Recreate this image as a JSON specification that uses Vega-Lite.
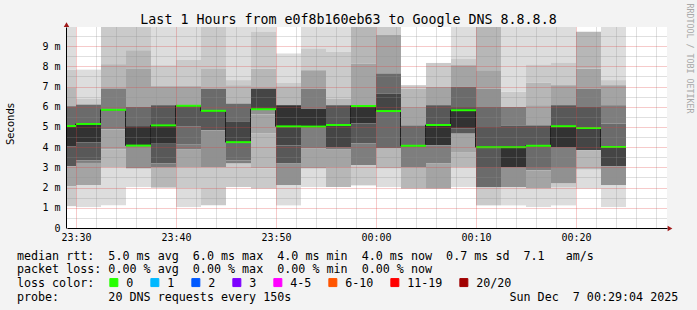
{
  "$schema": "https://vega.github.io/schema/vega-lite/v6.json",
  "width": 600,
  "height": 201,
  "autosize": {"type": "none"},
  "padding": {"left": 67, "top": 27, "right": 30, "bottom": 82},
  "background": "#f3f3f3",
  "config": {"view": {"fill": "#ffffff", "stroke": null}, "font": "DejaVu Sans Mono"},
  "title": {
    "text": "Last 1 Hours from e0f8b160eb63 to Google DNS 8.8.8.8",
    "font": "DejaVu Sans Mono", "fontSize": 13.3, "fontWeight": "normal", "color": "#000000",
    "anchor": "middle", "frame": "group", "dx": -18.5, "baseline": "alphabetic", "offset": 0, "dy": 34
  },
  "datasets": {
    "cols": [
      {"c": 0, "t0": 1765063650000, "t1": 1765063800000, "med": 5.05, "loss": "0"},
      {"c": 1, "t0": 1765063800000, "t1": 1765063950000, "med": 5.15, "loss": "0"},
      {"c": 2, "t0": 1765063950000, "t1": 1765064100000, "med": 5.85, "loss": "0"},
      {"c": 3, "t0": 1765064100000, "t1": 1765064250000, "med": 4.08, "loss": "0"},
      {"c": 4, "t0": 1765064250000, "t1": 1765064400000, "med": 5.08, "loss": "0"},
      {"c": 5, "t0": 1765064400000, "t1": 1765064550000, "med": 6.05, "loss": "0"},
      {"c": 6, "t0": 1765064550000, "t1": 1765064700000, "med": 5.8, "loss": "0"},
      {"c": 7, "t0": 1765064700000, "t1": 1765064850000, "med": 4.25, "loss": "0"},
      {"c": 8, "t0": 1765064850000, "t1": 1765065000000, "med": 5.88, "loss": "0"},
      {"c": 9, "t0": 1765065000000, "t1": 1765065150000, "med": 5.03, "loss": "0"},
      {"c": 10, "t0": 1765065150000, "t1": 1765065300000, "med": 5.02, "loss": "0"},
      {"c": 11, "t0": 1765065300000, "t1": 1765065450000, "med": 5.1, "loss": "0"},
      {"c": 12, "t0": 1765065450000, "t1": 1765065600000, "med": 6.04, "loss": "0"},
      {"c": 13, "t0": 1765065600000, "t1": 1765065750000, "med": 5.79, "loss": "0"},
      {"c": 14, "t0": 1765065750000, "t1": 1765065900000, "med": 4.07, "loss": "0"},
      {"c": 15, "t0": 1765065900000, "t1": 1765066050000, "med": 5.1, "loss": "0"},
      {"c": 16, "t0": 1765066050000, "t1": 1765066200000, "med": 5.83, "loss": "0"},
      {"c": 17, "t0": 1765066200000, "t1": 1765066350000, "med": 4.0, "loss": "0"},
      {"c": 18, "t0": 1765066350000, "t1": 1765066500000, "med": 4.0, "loss": "0"},
      {"c": 19, "t0": 1765066500000, "t1": 1765066650000, "med": 4.07, "loss": "0"},
      {"c": 20, "t0": 1765066650000, "t1": 1765066800000, "med": 5.04, "loss": "0"},
      {"c": 21, "t0": 1765066800000, "t1": 1765066950000, "med": 4.95, "loss": "0"},
      {"c": 22, "t0": 1765066950000, "t1": 1765067100000, "med": 4.01, "loss": "0"}
    ],
    "smoke": [
      {"t0":1765063650000,"t1":1765063800000,"hi":10.5,"lo":7.84,"g":1},{"t0":1765063650000,"t1":1765063800000,"hi":7.84,"lo":6.93,"g":2},{"t0":1765063650000,"t1":1765063800000,"hi":6.93,"lo":6.03,"g":3},{"t0":1765063650000,"t1":1765063800000,"hi":6.03,"lo":5.05,"g":7},{"t0":1765063650000,"t1":1765063800000,"hi":5.05,"lo":4.05,"g":10},{"t0":1765063650000,"t1":1765063800000,"hi":4.05,"lo":3.06,"g":8},{"t0":1765063650000,"t1":1765063800000,"hi":3.06,"lo":2.07,"g":4},{"t0":1765063650000,"t1":1765063800000,"hi":2.07,"lo":1.08,"g":2},
      {"t0":1765063800000,"t1":1765063950000,"hi":7.84,"lo":6.41,"g":1},{"t0":1765063800000,"t1":1765063950000,"hi":6.41,"lo":6.11,"g":2},{"t0":1765063800000,"t1":1765063950000,"hi":6.11,"lo":5.15,"g":7},{"t0":1765063800000,"t1":1765063950000,"hi":5.15,"lo":4.23,"g":10},{"t0":1765063800000,"t1":1765063950000,"hi":4.23,"lo":3.35,"g":8},{"t0":1765063800000,"t1":1765063950000,"hi":3.35,"lo":3.22,"g":6},{"t0":1765063800000,"t1":1765063950000,"hi":3.22,"lo":2.11,"g":4},{"t0":1765063800000,"t1":1765063950000,"hi":2.11,"lo":1.04,"g":1},
      {"t0":1765063950000,"t1":1765064100000,"hi":10.5,"lo":8.11,"g":2},{"t0":1765063950000,"t1":1765064100000,"hi":8.11,"lo":6.9,"g":3},{"t0":1765063950000,"t1":1765064100000,"hi":6.9,"lo":4.87,"g":6},{"t0":1765063950000,"t1":1765064100000,"hi":4.87,"lo":3.88,"g":4},{"t0":1765063950000,"t1":1765064100000,"hi":3.88,"lo":2.99,"g":3},{"t0":1765063950000,"t1":1765064100000,"hi":2.99,"lo":1.12,"g":1},
      {"t0":1765064100000,"t1":1765064250000,"hi":10.5,"lo":8.8,"g":2},{"t0":1765064100000,"t1":1765064250000,"hi":8.8,"lo":7.89,"g":3},{"t0":1765064100000,"t1":1765064250000,"hi":7.89,"lo":5.99,"g":4},{"t0":1765064100000,"t1":1765064250000,"hi":5.99,"lo":5.04,"g":7},{"t0":1765064100000,"t1":1765064250000,"hi":5.04,"lo":4.08,"g":10},{"t0":1765064100000,"t1":1765064250000,"hi":4.08,"lo":2.94,"g":5},{"t0":1765064100000,"t1":1765064250000,"hi":2.94,"lo":2.03,"g":1},
      {"t0":1765064250000,"t1":1765064400000,"hi":10.5,"lo":8.06,"g":1},{"t0":1765064250000,"t1":1765064400000,"hi":8.06,"lo":7.02,"g":2},{"t0":1765064250000,"t1":1765064400000,"hi":7.02,"lo":6.08,"g":4},{"t0":1765064250000,"t1":1765064400000,"hi":6.08,"lo":5.08,"g":8},{"t0":1765064250000,"t1":1765064400000,"hi":5.08,"lo":4.17,"g":10},{"t0":1765064250000,"t1":1765064400000,"hi":4.17,"lo":3.19,"g":8},{"t0":1765064250000,"t1":1765064400000,"hi":3.19,"lo":2.99,"g":6},{"t0":1765064250000,"t1":1765064400000,"hi":2.99,"lo":2.0,"g":3},
      {"t0":1765064400000,"t1":1765064550000,"hi":10.5,"lo":8.34,"g":1},{"t0":1765064400000,"t1":1765064550000,"hi":8.34,"lo":7.02,"g":2},{"t0":1765064400000,"t1":1765064550000,"hi":7.02,"lo":6.05,"g":4},{"t0":1765064400000,"t1":1765064550000,"hi":6.05,"lo":5.04,"g":8},{"t0":1765064400000,"t1":1765064550000,"hi":5.04,"lo":4.15,"g":7},{"t0":1765064400000,"t1":1765064550000,"hi":4.15,"lo":3.88,"g":6},{"t0":1765064400000,"t1":1765064550000,"hi":3.88,"lo":2.99,"g":4},{"t0":1765064400000,"t1":1765064550000,"hi":2.99,"lo":1.95,"g":2},{"t0":1765064400000,"t1":1765064550000,"hi":1.95,"lo":1.04,"g":1},
      {"t0":1765064550000,"t1":1765064700000,"hi":10.5,"lo":7.9,"g":2},{"t0":1765064550000,"t1":1765064700000,"hi":7.9,"lo":6.9,"g":3},{"t0":1765064550000,"t1":1765064700000,"hi":6.9,"lo":5.8,"g":7},{"t0":1765064550000,"t1":1765064700000,"hi":5.8,"lo":4.84,"g":8},{"t0":1765064550000,"t1":1765064700000,"hi":4.84,"lo":2.99,"g":5},{"t0":1765064550000,"t1":1765064700000,"hi":2.99,"lo":1.12,"g":2},
      {"t0":1765064700000,"t1":1765064850000,"hi":10.5,"lo":7.32,"g":1},{"t0":1765064700000,"t1":1765064850000,"hi":7.32,"lo":7.07,"g":2},{"t0":1765064700000,"t1":1765064850000,"hi":7.07,"lo":6.16,"g":3},{"t0":1765064700000,"t1":1765064850000,"hi":6.16,"lo":5.25,"g":7},{"t0":1765064700000,"t1":1765064850000,"hi":5.25,"lo":4.25,"g":9},{"t0":1765064700000,"t1":1765064850000,"hi":4.25,"lo":3.35,"g":7},{"t0":1765064700000,"t1":1765064850000,"hi":3.35,"lo":3.19,"g":6},{"t0":1765064700000,"t1":1765064850000,"hi":3.19,"lo":2.03,"g":2},
      {"t0":1765064850000,"t1":1765065000000,"hi":10.5,"lo":9.71,"g":1},{"t0":1765064850000,"t1":1765065000000,"hi":9.71,"lo":7.89,"g":2},{"t0":1765064850000,"t1":1765065000000,"hi":7.89,"lo":6.9,"g":3},{"t0":1765064850000,"t1":1765065000000,"hi":6.9,"lo":5.88,"g":9},{"t0":1765064850000,"t1":1765065000000,"hi":5.88,"lo":5.63,"g":5},{"t0":1765064850000,"t1":1765065000000,"hi":5.63,"lo":4.67,"g":4},{"t0":1765064850000,"t1":1765065000000,"hi":4.67,"lo":2.94,"g":3},{"t0":1765064850000,"t1":1765065000000,"hi":2.94,"lo":1.95,"g":2},
      {"t0":1765065000000,"t1":1765065150000,"hi":8.64,"lo":7.18,"g":1},{"t0":1765065000000,"t1":1765065150000,"hi":7.18,"lo":7.02,"g":2},{"t0":1765065000000,"t1":1765065150000,"hi":7.02,"lo":6.08,"g":3},{"t0":1765065000000,"t1":1765065150000,"hi":6.08,"lo":5.03,"g":10},{"t0":1765065000000,"t1":1765065150000,"hi":5.03,"lo":4.09,"g":9},{"t0":1765065000000,"t1":1765065150000,"hi":4.09,"lo":3.19,"g":8},{"t0":1765065000000,"t1":1765065150000,"hi":3.19,"lo":2.11,"g":5},{"t0":1765065000000,"t1":1765065150000,"hi":2.11,"lo":1.12,"g":1},
      {"t0":1765065150000,"t1":1765065300000,"hi":10.5,"lo":8.89,"g":1},{"t0":1765065150000,"t1":1765065300000,"hi":8.89,"lo":7.81,"g":2},{"t0":1765065150000,"t1":1765065300000,"hi":7.81,"lo":6.9,"g":4},{"t0":1765065150000,"t1":1765065300000,"hi":6.9,"lo":5.91,"g":6},{"t0":1765065150000,"t1":1765065300000,"hi":5.91,"lo":5.02,"g":10},{"t0":1765065150000,"t1":1765065300000,"hi":5.02,"lo":3.93,"g":6},{"t0":1765065150000,"t1":1765065300000,"hi":3.93,"lo":2.94,"g":4},{"t0":1765065150000,"t1":1765065300000,"hi":2.94,"lo":2.03,"g":1},
      {"t0":1765065300000,"t1":1765065450000,"hi":10.5,"lo":8.72,"g":1},{"t0":1765065300000,"t1":1765065450000,"hi":8.72,"lo":6.41,"g":2},{"t0":1765065300000,"t1":1765065450000,"hi":6.41,"lo":6.08,"g":3},{"t0":1765065300000,"t1":1765065450000,"hi":6.08,"lo":5.1,"g":8},{"t0":1765065300000,"t1":1765065450000,"hi":5.1,"lo":4.01,"g":9},{"t0":1765065300000,"t1":1765065450000,"hi":4.01,"lo":3.88,"g":6},{"t0":1765065300000,"t1":1765065450000,"hi":3.88,"lo":3.02,"g":4},{"t0":1765065300000,"t1":1765065450000,"hi":3.02,"lo":2.03,"g":3},
      {"t0":1765065450000,"t1":1765065600000,"hi":10.5,"lo":8.14,"g":3},{"t0":1765065450000,"t1":1765065600000,"hi":8.14,"lo":6.04,"g":4},{"t0":1765065450000,"t1":1765065600000,"hi":6.04,"lo":5.17,"g":10},{"t0":1765065450000,"t1":1765065600000,"hi":5.17,"lo":4.18,"g":8},{"t0":1765065450000,"t1":1765065600000,"hi":4.18,"lo":3.1,"g":6},{"t0":1765065450000,"t1":1765065600000,"hi":3.1,"lo":2.11,"g":2},
      {"t0":1765065600000,"t1":1765065750000,"hi":10.5,"lo":9.55,"g":2},{"t0":1765065600000,"t1":1765065750000,"hi":9.55,"lo":7.65,"g":4},{"t0":1765065600000,"t1":1765065750000,"hi":7.65,"lo":6.66,"g":7},{"t0":1765065600000,"t1":1765065750000,"hi":6.66,"lo":5.79,"g":9},{"t0":1765065600000,"t1":1765065750000,"hi":5.79,"lo":3.93,"g":7},{"t0":1765065600000,"t1":1765065750000,"hi":3.93,"lo":2.94,"g":3},{"t0":1765065600000,"t1":1765065750000,"hi":2.94,"lo":2.03,"g":1},
      {"t0":1765065750000,"t1":1765065900000,"hi":7.07,"lo":6.9,"g":2},{"t0":1765065750000,"t1":1765065900000,"hi":6.9,"lo":5.99,"g":3},{"t0":1765065750000,"t1":1765065900000,"hi":5.99,"lo":5.08,"g":4},{"t0":1765065750000,"t1":1765065900000,"hi":5.08,"lo":4.07,"g":7},{"t0":1765065750000,"t1":1765065900000,"hi":4.07,"lo":2.99,"g":6},{"t0":1765065750000,"t1":1765065900000,"hi":2.99,"lo":1.95,"g":3},
      {"t0":1765065900000,"t1":1765066050000,"hi":8.17,"lo":6.99,"g":2},{"t0":1765065900000,"t1":1765066050000,"hi":6.99,"lo":6.08,"g":4},{"t0":1765065900000,"t1":1765066050000,"hi":6.08,"lo":5.1,"g":8},{"t0":1765065900000,"t1":1765066050000,"hi":5.1,"lo":4.09,"g":10},{"t0":1765065900000,"t1":1765066050000,"hi":4.09,"lo":3.19,"g":6},{"t0":1765065900000,"t1":1765066050000,"hi":3.19,"lo":1.95,"g":4},
      {"t0":1765066050000,"t1":1765066200000,"hi":10.5,"lo":8.39,"g":1},{"t0":1765066050000,"t1":1765066200000,"hi":8.39,"lo":8.06,"g":2},{"t0":1765066050000,"t1":1765066200000,"hi":8.06,"lo":6.99,"g":4},{"t0":1765066050000,"t1":1765066200000,"hi":6.99,"lo":5.99,"g":7},{"t0":1765066050000,"t1":1765066200000,"hi":5.99,"lo":5.83,"g":8},{"t0":1765066050000,"t1":1765066200000,"hi":5.83,"lo":4.92,"g":10},{"t0":1765066050000,"t1":1765066200000,"hi":4.92,"lo":4.67,"g":8},{"t0":1765066050000,"t1":1765066200000,"hi":4.67,"lo":3.76,"g":4},{"t0":1765066050000,"t1":1765066200000,"hi":3.76,"lo":2.99,"g":3},{"t0":1765066050000,"t1":1765066200000,"hi":2.99,"lo":2.03,"g":1},
      {"t0":1765066200000,"t1":1765066350000,"hi":10.5,"lo":7.81,"g":3},{"t0":1765066200000,"t1":1765066350000,"hi":7.81,"lo":6.9,"g":4},{"t0":1765066200000,"t1":1765066350000,"hi":6.9,"lo":5.99,"g":5},{"t0":1765066200000,"t1":1765066350000,"hi":5.99,"lo":5.0,"g":7},{"t0":1765066200000,"t1":1765066350000,"hi":5.0,"lo":3.02,"g":8},{"t0":1765066200000,"t1":1765066350000,"hi":3.02,"lo":2.03,"g":7},{"t0":1765066200000,"t1":1765066350000,"hi":2.03,"lo":1.12,"g":2},
      {"t0":1765066350000,"t1":1765066500000,"hi":10.5,"lo":6.74,"g":1},{"t0":1765066350000,"t1":1765066500000,"hi":6.74,"lo":5.99,"g":2},{"t0":1765066350000,"t1":1765066500000,"hi":5.99,"lo":5.08,"g":6},{"t0":1765066350000,"t1":1765066500000,"hi":5.08,"lo":4.0,"g":8},{"t0":1765066350000,"t1":1765066500000,"hi":4.0,"lo":3.02,"g":10},{"t0":1765066350000,"t1":1765066500000,"hi":3.02,"lo":2.03,"g":5},{"t0":1765066350000,"t1":1765066500000,"hi":2.03,"lo":1.12,"g":1},
      {"t0":1765066500000,"t1":1765066650000,"hi":10.5,"lo":8.1,"g":1},{"t0":1765066500000,"t1":1765066650000,"hi":8.1,"lo":7.2,"g":2},{"t0":1765066500000,"t1":1765066650000,"hi":7.2,"lo":6.08,"g":3},{"t0":1765066500000,"t1":1765066650000,"hi":6.08,"lo":5.08,"g":4},{"t0":1765066500000,"t1":1765066650000,"hi":5.08,"lo":4.07,"g":8},{"t0":1765066500000,"t1":1765066650000,"hi":4.07,"lo":3.02,"g":7},{"t0":1765066500000,"t1":1765066650000,"hi":3.02,"lo":2.85,"g":6},{"t0":1765066500000,"t1":1765066650000,"hi":2.85,"lo":1.95,"g":4},{"t0":1765066500000,"t1":1765066650000,"hi":1.95,"lo":1.04,"g":1},
      {"t0":1765066650000,"t1":1765066800000,"hi":10.5,"lo":8.17,"g":1},{"t0":1765066650000,"t1":1765066800000,"hi":8.17,"lo":7.07,"g":2},{"t0":1765066650000,"t1":1765066800000,"hi":7.07,"lo":6.08,"g":4},{"t0":1765066650000,"t1":1765066800000,"hi":6.08,"lo":5.04,"g":8},{"t0":1765066650000,"t1":1765066800000,"hi":5.04,"lo":4.01,"g":10},{"t0":1765066650000,"t1":1765066800000,"hi":4.01,"lo":3.02,"g":6},{"t0":1765066650000,"t1":1765066800000,"hi":3.02,"lo":2.2,"g":5},{"t0":1765066650000,"t1":1765066800000,"hi":2.2,"lo":2.03,"g":2},{"t0":1765066650000,"t1":1765066800000,"hi":2.03,"lo":1.12,"g":1},
      {"t0":1765066800000,"t1":1765066950000,"hi":9.71,"lo":7.89,"g":3},{"t0":1765066800000,"t1":1765066950000,"hi":7.89,"lo":6.9,"g":4},{"t0":1765066800000,"t1":1765066950000,"hi":6.9,"lo":5.99,"g":6},{"t0":1765066800000,"t1":1765066950000,"hi":5.99,"lo":4.95,"g":8},{"t0":1765066800000,"t1":1765066950000,"hi":4.95,"lo":3.85,"g":9},{"t0":1765066800000,"t1":1765066950000,"hi":3.85,"lo":2.89,"g":3},{"t0":1765066800000,"t1":1765066950000,"hi":2.89,"lo":1.95,"g":1},
      {"t0":1765066950000,"t1":1765067100000,"hi":10.5,"lo":7.32,"g":1},{"t0":1765066950000,"t1":1765067100000,"hi":7.32,"lo":7.07,"g":2},{"t0":1765066950000,"t1":1765067100000,"hi":7.07,"lo":6.08,"g":4},{"t0":1765066950000,"t1":1765067100000,"hi":6.08,"lo":5.17,"g":6},{"t0":1765066950000,"t1":1765067100000,"hi":5.17,"lo":4.01,"g":7},{"t0":1765066950000,"t1":1765067100000,"hi":4.01,"lo":3.05,"g":9},{"t0":1765066950000,"t1":1765067100000,"hi":3.05,"lo":2.11,"g":5},{"t0":1765066950000,"t1":1765067100000,"hi":2.11,"lo":1.04,"g":1}
    ],
    "marks": [{"axis": "x"}]
  },
  "layer": [
    {
      "data": {"name": "smoke"},
      "mark": {"type": "rect", "clip": true},
      "encoding": {
        "x": {
          "field": "t0", "type": "temporal",
          "scale": {"type": "utc", "domain": [1765063746000, 1765067346000], "nice": false},
          "axis": {
            "values": [1765063800000, 1765063920000, 1765064040000, 1765064160000, 1765064280000, 1765064400000, 1765064520000, 1765064640000, 1765064760000, 1765064880000, 1765065000000, 1765065120000, 1765065240000, 1765065360000, 1765065480000, 1765065600000, 1765065720000, 1765065840000, 1765065960000, 1765066080000, 1765066200000, 1765066320000, 1765066440000, 1765066560000, 1765066680000, 1765066800000, 1765066920000, 1765067040000, 1765067160000, 1765067280000],
            "labelExpr": "utcminutes(datum.value) % 10 === 0 ? utcFormat(datum.value, '%H:%M') : ''",
            "labelFont": "DejaVu Sans Mono", "labelFontSize": 10, "labelColor": "#000000",
            "labelPadding": 4, "labelOverlap": false,
            "ticks": false,
            "domainColor": "#000000",
            "grid": true,
            "gridColor": {"condition": {"test": "utcminutes(datum.value) % 10 === 0", "value": "#e04040"}, "value": "#909090"},
            "gridOpacity": 0.55, "gridDash": [1, 1],
            "title": null,
            "zindex": 1
          }
        },
        "x2": {"field": "t1"},
        "y": {
          "field": "lo", "type": "quantitative",
          "scale": {"domain": [0, 9.95], "nice": false, "zero": false},
          "axis": {
            "orient": "left", "offset": 1,
            "values": [0, 0.5, 1, 1.5, 2, 2.5, 3, 3.5, 4, 4.5, 5, 5.5, 6, 6.5, 7, 7.5, 8, 8.5, 9, 9.5],
            "labelExpr": "datum.value % 1 === 0 ? (datum.value === 0 ? '0' : datum.value + ' m') : ''",
            "labelFont": "DejaVu Sans Mono", "labelFontSize": 10, "labelColor": "#000000", "labelPadding": 6,
            "labelOverlap": false, "labelFlush": false,
            "ticks": false, "tickSize": 0,
            "domainColor": "#000000", "domainWidth": 1,
            "grid": true,
            "gridColor": {"condition": {"test": "datum.value % 1 === 0", "value": "#e04040"}, "value": "#909090"},
            "gridOpacity": 0.55, "gridDash": [1, 1], "gridWidth": 1,
            "title": "Seconds", "titleFont": "DejaVu Sans", "titleFontSize": 10, "titleFontWeight": "normal", "titleColor": "#000000",
            "titleX": -56, "titleY": 96.5, "titleAngle": -90, "titleAlign": "center", "titleBaseline": "middle",
            "zindex": 1
          }
        },
        "y2": {"field": "hi"},
        "fill": {
          "field": "g", "type": "ordinal",
          "scale": {"domain": [1, 2, 3, 4, 5, 6, 7, 8, 9, 10], "range": ["#dddddd", "#cacaca", "#b7b7b7", "#a4a4a4", "#919191", "#7e7e7e", "#6b6b6b", "#585858", "#454545", "#323232"]},
          "legend": null
        }
      }
    },
    {
      "data": {"name": "cols"},
      "transform": [{"fold": ["t0", "t1"], "as": ["k", "t"]}],
      "mark": {"type": "line", "clip": true, "color": "#202020", "strokeWidth": 1, "xOffset": -0.5},
      "encoding": {
        "x": {"field": "t", "type": "temporal", "scale": {"type": "utc", "domain": [1765063746000, 1765067346000], "nice": false}, "axis": null},
        "y": {
          "field": "med", "type": "quantitative",
          "scale": {"domain": [0, 9.95], "nice": false, "zero": false},
          "axis": {
            "orient": "right", "labels": false, "ticks": false, "domain": false, "grid": false,
            "title": "RRDTOOL / TOBI OETIKER", "titleFont": "DejaVu Sans Mono", "titleFontSize": 8.3,
            "titleFontWeight": "normal", "titleColor": "#a8a8a8", "titleAngle": 90,
            "titleX": 21, "titleY": -24, "titleAlign": "left", "titleBaseline": "middle"
          }
        },
        "order": [{"field": "c", "type": "quantitative"}, {"field": "k", "type": "nominal"}]
      }
    },
    {
      "data": {"name": "cols"},
      "mark": {"type": "rule", "clip": true, "strokeWidth": 2},
      "encoding": {
        "x": {
          "field": "t0", "type": "temporal",
          "scale": {"type": "utc", "domain": [1765063746000, 1765067346000], "nice": false},
          "axis": {
            "orient": "bottom", "labels": false, "ticks": false, "domain": false, "grid": false,
            "title": [
              "median rtt:\u00a0\u00a05.0 ms avg\u00a0\u00a06.0 ms max\u00a0\u00a04.0 ms min\u00a0\u00a04.0 ms now\u00a0\u00a00.7 ms sd\u00a0\u00a07.1\u00a0\u00a0\u00a0am/s",
              "packet loss: 0.00 % avg\u00a0\u00a00.00 % max\u00a0\u00a00.00 % min\u00a0\u00a00.00 % now",
              "loss color:",
              "probe:\u00a0\u00a0\u00a0\u00a0\u00a0\u00a0\u00a020 DNS requests every 150s\u00a0\u00a0\u00a0\u00a0\u00a0\u00a0\u00a0\u00a0\u00a0\u00a0\u00a0\u00a0\u00a0\u00a0\u00a0\u00a0\u00a0\u00a0\u00a0\u00a0\u00a0\u00a0\u00a0\u00a0\u00a0\u00a0\u00a0\u00a0\u00a0\u00a0\u00a0Sun Dec\u00a0\u00a07 00:29:04 2025"
            ],
            "titleFont": "DejaVu Sans Mono", "titleFontSize": 11.7, "titleFontWeight": "normal", "titleColor": "#000000",
            "titleX": -50.6, "titleY": 31, "titleAlign": "left", "titleAnchor": "start", "titleBaseline": "alphabetic",
            "titleLineHeight": 13.7, "titleAngle": 0
          }
        },
        "x2": {"field": "t1"},
        "y": {"field": "med", "type": "quantitative", "scale": {"domain": [0, 9.95], "nice": false, "zero": false}, "axis": null},
        "color": {
          "field": "loss", "type": "nominal",
          "scale": {"domain": ["0", "1", "2", "3", "4-5", "6-10", "11-19", "20/20"], "range": ["#26ff00", "#00b8ff", "#0059ff", "#7e00ff", "#ff00ff", "#ff5500", "#ff0000", "#a10000"]},
          "legend": {
            "title": null, "orient": "none", "legendX": 41, "legendY": 249.5,
            "direction": "horizontal", "columns": 8, "padding": 0,
            "symbolType": "square", "symbolSize": 64, "symbolStrokeWidth": 1, "symbolOpacity": 1,
            "labelFont": "DejaVu Sans Mono", "labelFontSize": 11.7, "labelColor": "#000000",
            "labelOffset": 6.5, "columnPadding": 14,
            "encode": {"symbols": {"update": {"fill": {"scale": "color", "field": "value"}, "stroke": {"value": "#000000"}, "strokeWidth": {"value": 1}, "opacity": {"value": 1}}}}
          }
        }
      }
    },
    {
      "data": {"name": "marks"},
      "mark": {"type": "point", "shape": "triangle-up", "filled": true, "color": "#a01818", "size": 30, "opacity": 1},
      "encoding": {
        "x": {"datum": {"year": 2025, "month": 12, "date": 6, "hours": 23, "minutes": 29, "seconds": 3, "utc": true}, "type": "temporal", "scale": {"type": "utc", "domain": [1765063746000, 1765067346000], "nice": false}, "axis": null},
        "y": {"datum": 10.07, "type": "quantitative", "scale": {"domain": [0, 9.95], "nice": false, "zero": false}, "axis": null}
      }
    },
    {
      "data": {"name": "marks"},
      "mark": {"type": "point", "shape": "triangle-right", "filled": true, "color": "#a01818", "size": 30, "opacity": 1},
      "encoding": {
        "x": {"datum": {"year": 2025, "month": 12, "date": 7, "hours": 0, "minutes": 29, "seconds": 24, "utc": true}, "type": "temporal", "scale": {"type": "utc", "domain": [1765063746000, 1765067346000], "nice": false}, "axis": null},
        "y": {"datum": -0.02, "type": "quantitative", "scale": {"domain": [0, 9.95], "nice": false, "zero": false}, "axis": null}
      }
    }
  ],
  "resolve": {"axis": {"x": "independent", "y": "independent"}}
}
